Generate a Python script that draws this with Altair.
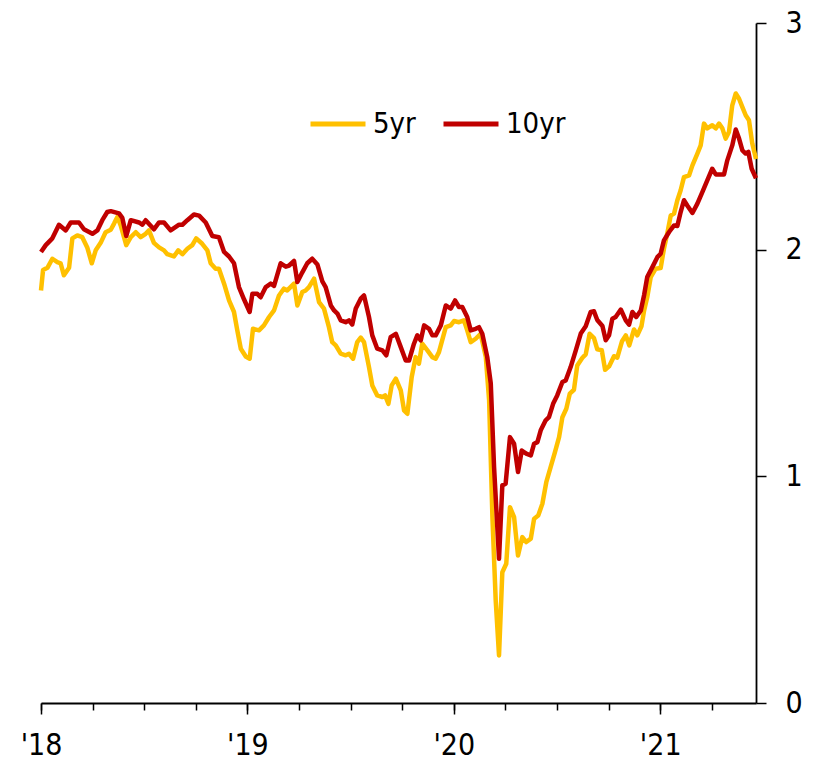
import altair as alt
import pandas as pd

# decimal-year positions and values
yr_5 = [2018.000, 2018.010, 2018.031, 2018.055, 2018.079, 2018.095, 2018.111, 2018.136, 2018.152, 2018.176,
        2018.200, 2018.224, 2018.246, 2018.265, 2018.289, 2018.313, 2018.338, 2018.354, 2018.370, 2018.386,
        2018.413, 2018.435, 2018.459, 2018.483, 2018.507, 2018.523, 2018.547, 2018.572, 2018.596, 2018.612,
        2018.644, 2018.665, 2018.685, 2018.709, 2018.733, 2018.752, 2018.781, 2018.806, 2018.822, 2018.846,
        2018.862, 2018.887, 2018.911, 2018.935, 2018.951, 2018.968, 2018.992, 2019.011, 2019.027, 2019.056,
        2019.080, 2019.105, 2019.129, 2019.153, 2019.177, 2019.193, 2019.226, 2019.242, 2019.266, 2019.282,
        2019.298, 2019.323, 2019.347, 2019.371, 2019.395, 2019.411, 2019.428, 2019.452, 2019.476, 2019.492,
        2019.512, 2019.532, 2019.549, 2019.565, 2019.589, 2019.605, 2019.629, 2019.654, 2019.667, 2019.683,
        2019.699, 2019.719, 2019.743, 2019.759, 2019.775, 2019.796, 2019.815, 2019.831, 2019.847, 2019.872,
        2019.896, 2019.912, 2019.928, 2019.961, 2019.985, 2020.001, 2020.025, 2020.049, 2020.065, 2020.082,
        2020.106, 2020.130, 2020.155, 2020.171, 2020.187, 2020.203, 2020.219, 2020.235, 2020.254, 2020.272,
        2020.292, 2020.311, 2020.332, 2020.351, 2020.373, 2020.389, 2020.409, 2020.429, 2020.448, 2020.469,
        2020.490, 2020.510, 2020.526, 2020.545, 2020.562, 2020.582, 2020.598, 2020.623, 2020.639, 2020.658,
        2020.679, 2020.695, 2020.717, 2020.733, 2020.752, 2020.776, 2020.792, 2020.815, 2020.833, 2020.850,
        2020.873, 2020.889, 2020.909, 2020.922, 2020.937, 2020.954, 2020.978, 2021.002, 2021.018, 2021.034,
        2021.051, 2021.067, 2021.083, 2021.099, 2021.115, 2021.140, 2021.156, 2021.180, 2021.196, 2021.212,
        2021.228, 2021.252, 2021.269, 2021.285, 2021.301, 2021.317, 2021.333, 2021.349, 2021.366, 2021.382,
        2021.398, 2021.414, 2021.430, 2021.446, 2021.464]
val_5 = [1.82, 1.91, 1.92, 1.96, 1.945, 1.94, 1.887, 1.92, 2.05, 2.063,
         2.055, 2.01, 1.94, 1.997, 2.03, 2.077, 2.088, 2.115, 2.144, 2.107,
         2.02, 2.055, 2.077, 2.055, 2.07, 2.085, 2.03, 2.01, 1.997, 1.98,
         1.97, 1.997, 1.98, 2.004, 2.02, 2.05, 2.026, 1.997, 1.94, 1.916,
         1.916, 1.85, 1.776, 1.725, 1.644, 1.563, 1.529, 1.519, 1.651, 1.644,
         1.666, 1.703, 1.732, 1.798, 1.828, 1.82, 1.85, 1.754, 1.813, 1.82,
         1.835, 1.872, 1.769, 1.74, 1.658, 1.592, 1.578, 1.541, 1.534, 1.541,
         1.519, 1.592, 1.612, 1.592, 1.482, 1.401, 1.357, 1.35, 1.357, 1.32,
         1.401, 1.431, 1.379, 1.291, 1.276, 1.438, 1.526, 1.497, 1.585, 1.556,
         1.526, 1.519, 1.548, 1.658, 1.666, 1.685, 1.68, 1.688, 1.644, 1.592,
         1.607, 1.629, 1.526, 1.335, 0.82, 0.452, 0.21, 0.577, 0.614, 0.864,
         0.82, 0.651, 0.732, 0.71, 0.725, 0.813, 0.827, 0.879, 0.974, 1.041,
         1.107, 1.173, 1.261, 1.298, 1.365, 1.382, 1.489, 1.523, 1.538, 1.629,
         1.61, 1.56, 1.556, 1.47, 1.485, 1.53, 1.524, 1.596, 1.622, 1.578,
         1.648, 1.622, 1.662, 1.732, 1.79, 1.879, 1.916, 1.919, 2.004, 2.071,
         2.151, 2.159, 2.218, 2.262, 2.32, 2.328, 2.372, 2.424, 2.46, 2.556,
         2.535, 2.549, 2.535, 2.556, 2.535, 2.49, 2.519, 2.637, 2.689, 2.666,
         2.629, 2.593, 2.571, 2.468, 2.40]

yr_10 = [2018.000, 2018.023, 2018.055, 2018.087, 2018.120, 2018.144, 2018.184, 2018.208, 2018.249, 2018.273,
         2018.297, 2018.321, 2018.338, 2018.378, 2018.394, 2018.413, 2018.435, 2018.475, 2018.491, 2018.507,
         2018.547, 2018.572, 2018.596, 2018.628, 2018.669, 2018.685, 2018.709, 2018.741, 2018.766, 2018.798,
         2018.830, 2018.862, 2018.887, 2018.911, 2018.935, 2018.959, 2018.984, 2019.011, 2019.024, 2019.048,
         2019.064, 2019.089, 2019.113, 2019.129, 2019.161, 2019.186, 2019.202, 2019.226, 2019.242, 2019.266,
         2019.290, 2019.314, 2019.339, 2019.363, 2019.379, 2019.404, 2019.420, 2019.436, 2019.452, 2019.476,
         2019.492, 2019.508, 2019.525, 2019.549, 2019.565, 2019.589, 2019.605, 2019.629, 2019.654, 2019.673,
         2019.694, 2019.719, 2019.743, 2019.767, 2019.783, 2019.807, 2019.823, 2019.840, 2019.856, 2019.880,
         2019.896, 2019.912, 2019.937, 2019.961, 2019.985, 2020.006, 2020.025, 2020.041, 2020.065, 2020.082,
         2020.106, 2020.122, 2020.138, 2020.162, 2020.179, 2020.195, 2020.219, 2020.235, 2020.251, 2020.272,
         2020.292, 2020.311, 2020.329, 2020.351, 2020.373, 2020.389, 2020.405, 2020.421, 2020.445, 2020.461,
         2020.481, 2020.501, 2020.526, 2020.542, 2020.566, 2020.591, 2020.615, 2020.639, 2020.663, 2020.679,
         2020.695, 2020.720, 2020.736, 2020.752, 2020.768, 2020.784, 2020.809, 2020.833, 2020.849, 2020.865,
         2020.884, 2020.906, 2020.922, 2020.937, 2020.962, 2020.986, 2021.002, 2021.018, 2021.043, 2021.067,
         2021.083, 2021.099, 2021.115, 2021.131, 2021.156, 2021.180, 2021.204, 2021.228, 2021.252, 2021.269,
         2021.293, 2021.309, 2021.325, 2021.349, 2021.366, 2021.382, 2021.398, 2021.414, 2021.427, 2021.443,
         2021.464]
val_10 = [1.99, 2.02, 2.05, 2.11, 2.085, 2.12, 2.12, 2.09, 2.07, 2.085,
          2.13, 2.166, 2.17, 2.16, 2.14, 2.06, 2.13, 2.12, 2.11, 2.13,
          2.09, 2.12, 2.12, 2.085, 2.11, 2.11, 2.13, 2.155, 2.15, 2.12,
          2.06, 2.055, 1.99, 1.97, 1.94, 1.835, 1.78, 1.725, 1.805, 1.805,
          1.79, 1.835, 1.85, 1.84, 1.94, 1.925, 1.93, 1.95, 1.857, 1.90,
          1.94, 1.96, 1.935, 1.86, 1.835, 1.754, 1.732, 1.718, 1.688, 1.68,
          1.688, 1.67, 1.74, 1.784, 1.798, 1.703, 1.622, 1.563, 1.556, 1.534,
          1.614, 1.629, 1.57, 1.511, 1.511, 1.585, 1.622, 1.60, 1.666, 1.651,
          1.622, 1.622, 1.666, 1.754, 1.74, 1.776, 1.747, 1.747, 1.703, 1.644,
          1.651, 1.658, 1.629, 1.526, 1.41, 1.041, 0.636, 0.96, 0.967, 1.173,
          1.144, 1.019, 1.114, 1.10, 1.092, 1.144, 1.151, 1.203, 1.247, 1.261,
          1.32, 1.357, 1.416, 1.423, 1.482, 1.556, 1.63, 1.662, 1.725, 1.728,
          1.69, 1.663, 1.60, 1.622, 1.695, 1.703, 1.736, 1.688, 1.669, 1.725,
          1.703, 1.732, 1.80, 1.879, 1.923, 1.967, 1.982, 2.041, 2.078, 2.107,
          2.104, 2.166, 2.218, 2.195, 2.162, 2.203, 2.254, 2.306, 2.357, 2.332,
          2.332, 2.332, 2.394, 2.46, 2.53, 2.49, 2.438, 2.424, 2.431, 2.357,
          2.315]

series_names = ["5yr", "10yr"]
series_colors = ["#FFC000", "#C00000"]
year_ticks = [2018, 2019, 2020, 2021]
quarter_ticks = [2018 + q * 0.25 for q in range(14)]
y_ticks = [0, 1, 2, 3]
x_domain = [2018, 2021.464]

df = pd.concat([
    pd.DataFrame({"year": yr_5, "value": val_5, "series": "5yr"}),
    pd.DataFrame({"year": yr_10, "value": val_10, "series": "10yr"}),
])

FONT = "'DejaVu Sans Condensed', 'DejaVu Sans', sans-serif"
FS = 30

x_scale = alt.Scale(domain=x_domain, nice=False, zero=False)

lines = alt.Chart(df).mark_line(strokeWidth=4.5, strokeJoin="round").encode(
    x=alt.X("year:Q", scale=x_scale,
            axis=alt.Axis(orient="bottom", values=year_ticks, title=None, grid=False, tickSize=11,
                          tickWidth=1.5, domainWidth=1.8, domainColor="black", tickColor="black",
                          labelExpr="\"'\" + slice(toString(datum.value), 2)",
                          labelFontSize=FS, labelFont=FONT, labelColor="black",
                          labelPadding=16, labelFlush=False)),
    y=alt.Y("value:Q", scale=alt.Scale(domain=[0, 3], nice=False),
            axis=alt.Axis(orient="right", values=y_ticks, title=None, grid=False,
                          tickSize=10, tickWidth=1.5, domainWidth=1.8,
                          domainColor="black", tickColor="black",
                          labelFontSize=FS, labelFont=FONT, labelColor="black",
                          labelPadding=19)),
    color=alt.Color("series:N", sort=series_names,
                    scale=alt.Scale(domain=series_names, range=series_colors),
                    legend=alt.Legend(orient="none", legendX=267, legendY=71,
                                      direction="horizontal", title=None,
                                      symbolType="stroke", symbolStrokeWidth=5,
                                      symbolSize=3025, labelFontSize=29, labelFont=FONT,
                                      labelColor="black", columnPadding=17, labelOffset=5)),
    order=alt.Order("year:Q"),
    detail="series:N",
)

minor = alt.Chart(pd.DataFrame({"year": quarter_ticks})).mark_point(opacity=0).encode(
    x=alt.X("year:Q", scale=x_scale,
            axis=alt.Axis(orient="bottom", values=quarter_ticks, title=None, grid=False,
                          labels=False, domain=False, tickSize=7, tickWidth=1.5,
                          tickColor="black")),
    y=alt.value(0),
)

chart = alt.layer(lines, minor).resolve_axis(x="independent").properties(
    width=715, height=680, background="white",
    padding={"left": 12, "top": 0, "right": 0, "bottom": 0},
).configure_view(stroke=None, strokeWidth=0)

chart.save("out.html", embed_options={"renderer": "svg", "actions": False})
